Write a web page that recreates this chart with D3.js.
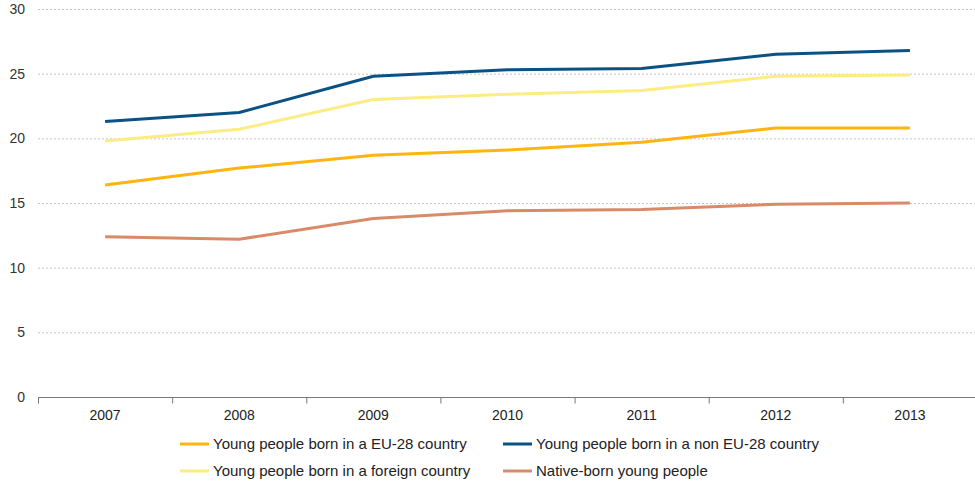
<!DOCTYPE html>
<html><head><meta charset="utf-8">
<script src="https://cdn.jsdelivr.net/npm/d3@7"></script>
<style>body{margin:0;background:#fff}svg{display:block;font-family:"Liberation Sans",Arial,sans-serif}</style>
</head><body>
<svg id="c" width="975" height="486"></svg>
<script>
const years = ["2007","2008","2009","2010","2011","2012","2013"];
const yTicks = [0,5,10,15,20,25,30];
const seriesNames = ["Young people born in a EU-28 country","Young people born in a non EU-28 country","Young people born in a foreign country","Native-born young people"];
const seriesColors = ["#FFB40F","#0B5284","#FCEC82","#D98A69"];
const eu28 = [16.4,17.7,18.7,19.1,19.7,20.8,20.8];
const nonEu28 = [21.3,22.0,24.8,25.3,25.4,26.5,26.8];
const foreign = [19.8,20.7,23.0,23.4,23.7,24.8,24.9];
const native = [12.4,12.2,13.8,14.4,14.5,14.9,15.0];
const seriesValues = [eu28, nonEu28, foreign, native];
const drawOrder = [3,0,2,1];

const svg = d3.select("#c");
const x = d3.scaleBand().domain(years).range([38,977]);
const y = d3.scaleLinear().domain([0,30]).range([397,9]);

// gridlines
svg.append("g").selectAll("line").data(yTicks.filter(d=>d>0)).join("line")
  .attr("x1",38).attr("x2",975).attr("y1",d=>y(d)+0.5).attr("y2",d=>y(d)+0.5)
  .attr("stroke","#c4c4c4").attr("stroke-dasharray","2,2");

// y labels
svg.append("g").selectAll("text").data(yTicks).join("text")
  .attr("x",25).attr("y",d=>y(d)).attr("dy","0.35em").attr("text-anchor","end")
  .attr("font-size",14).attr("fill","#333").text(d=>d);

// x axis
const xa = svg.append("g").attr("transform","translate(0,397.5)");
xa.append("line").attr("x1",38).attr("x2",975).attr("stroke","#777");
const edges = years.map(d=>x(d));
xa.selectAll("line.t").data(edges).join("line").attr("class","t")
  .attr("x1",d=>d+0.5).attr("x2",d=>d+0.5).attr("y1",0).attr("y2",6).attr("stroke","#777");
xa.selectAll("text").data(years).join("text")
  .attr("x",d=>x(d)+x.bandwidth()/2).attr("y",22).attr("text-anchor","middle")
  .attr("font-size",14).attr("fill","#222").text(d=>d);

// lines
const line = d3.line().x((d,i)=>x(years[i])+x.bandwidth()/2).y(d=>y(d));
svg.append("g").selectAll("path").data(drawOrder).join("path")
  .attr("d",i=>line(seriesValues[i])).attr("fill","none")
  .attr("stroke",i=>seriesColors[i]).attr("stroke-width",3).attr("stroke-linejoin","round");

// legend
const legPos = [[180,444],[503,444],[180,471],[503,471]];
const lg = svg.append("g").selectAll("g").data(seriesNames).join("g")
  .attr("transform",(d,i)=>`translate(${legPos[i][0]},${legPos[i][1]})`);
lg.append("line").attr("x1",0).attr("x2",29).attr("stroke",(d,i)=>seriesColors[i]).attr("stroke-width",3);
lg.append("text").attr("x",33).attr("dy","0.35em").attr("font-size",15).attr("fill","#222").text(d=>d);
</script>
</body></html>
